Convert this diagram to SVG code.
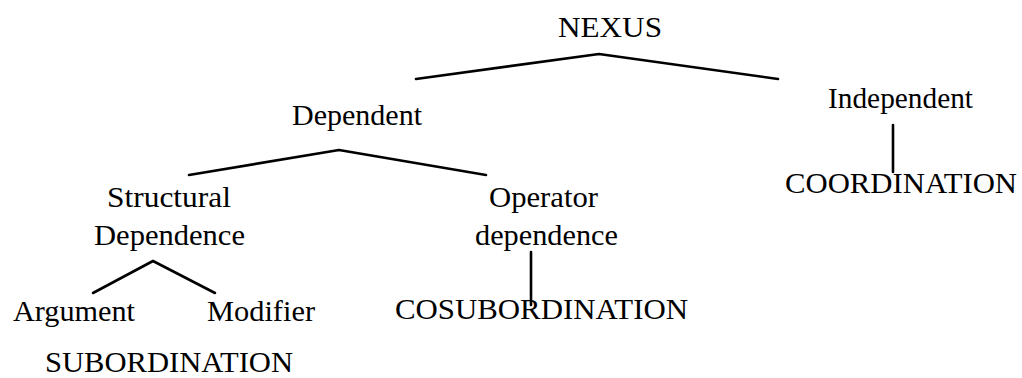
<svg xmlns="http://www.w3.org/2000/svg" width="1022" height="378" viewBox="0 0 1022 378">
<style>
text{font-family:"Liberation Serif","Times New Roman",serif;font-size:30px;fill:#000}
.e{stroke:#000;stroke-width:2.6;fill:none;stroke-linecap:round;stroke-linejoin:round}
</style>
<rect width="1022" height="378" fill="#fff"/>
<g id="connectors">
<polyline class="e" points="416,79 599,54 778,79"/>
<polyline class="e" points="189,175 339,150 486,175"/>
<polyline class="e" points="93,293 153,261 215,293"/>
<line class="e" x1="531" y1="252" x2="531" y2="305"/>
<line class="e" x1="893" y1="125" x2="893" y2="172"/>
</g>
<g id="nexus"><text x="558" y="37" textLength="104" lengthAdjust="spacingAndGlyphs">NEXUS</text></g>
<g id="dependent"><text x="292" y="125" textLength="130" lengthAdjust="spacingAndGlyphs">Dependent</text></g>
<g id="independent"><text x="828" y="108" textLength="145" lengthAdjust="spacingAndGlyphs">Independent</text></g>
<g id="coordination"><text x="785" y="193" textLength="232" lengthAdjust="spacingAndGlyphs">COORDINATION</text></g>
<g id="structural"><text x="107" y="207" textLength="124" lengthAdjust="spacingAndGlyphs">Structural</text><text x="94" y="245" textLength="151" lengthAdjust="spacingAndGlyphs">Dependence</text></g>
<g id="operator"><text x="489" y="207" textLength="109" lengthAdjust="spacingAndGlyphs">Operator</text><text x="475" y="245" textLength="143" lengthAdjust="spacingAndGlyphs">dependence</text></g>
<g id="argument"><text x="13" y="321" textLength="122" lengthAdjust="spacingAndGlyphs">Argument</text></g>
<g id="modifier"><text x="207" y="321" textLength="108" lengthAdjust="spacingAndGlyphs">Modifier</text></g>
<g id="cosubordination"><text x="395" y="319" textLength="293" lengthAdjust="spacingAndGlyphs">COSUBORDINATION</text></g>
<g id="subordination"><text x="45" y="372" textLength="248" lengthAdjust="spacingAndGlyphs">SUBORDINATION</text></g>
</svg>
